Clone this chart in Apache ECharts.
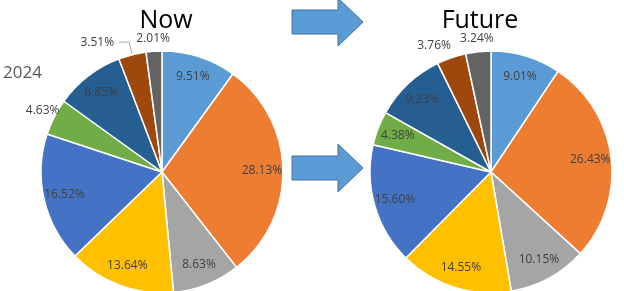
<!DOCTYPE html>
<html>
<head>
<meta charset="utf-8">
<script src="https://cdn.jsdelivr.net/npm/echarts@6/dist/echarts.min.js"></script>
<style>
  html, body { margin: 0; padding: 0; background: #fff; }
  #main { width: 624px; height: 291px; }
</style>
</head>
<body>
<div id="main"></div>
<script>
var titles = ['Now', 'Future'];
var yearLabel = '2024';
var nowValues = [9.51, 28.13, 8.63, 13.64, 16.52, 4.63, 8.85, 3.51, 2.01];
var futureValues = [9.01, 26.43, 10.15, 14.55, 15.60, 4.38, 9.23, 3.76, 3.24];
// which slices get their label outside the pie
var nowOutside = [5, 8];
var nowLeader = [7];
var futureOutside = [7, 8];
var futureShiftedLeft = [7];

var sliceColors = ['#5B9BD5', '#ED7D31', '#A5A5A5', '#FFC000', '#4472C4',
                   '#70AD47', '#255E91', '#9E480E', '#636363'];
var labelFont = { color: '#404040', fontSize: 12, fontFamily: 'Open Sans' };

var myChart = echarts.init(document.getElementById('main'));

function fmt(v) { return v.toFixed(2) + '%'; }

function pieSeries(values, center, outside, leader, shiftedLeft) {
  var main = {
    type: 'pie',
    center: center,
    radius: 121,
    startAngle: 90,
    silent: true,
    avoidLabelOverlap: false,
    itemStyle: { borderColor: '#fff', borderWidth: 1.5 },
    data: values.map(function (v, i) {
      var hasLeader = leader.indexOf(i) >= 0;
      return {
        value: v,
        itemStyle: { color: sliceColors[i] },
        label: { show: hasLeader, position: 'outside', formatter: fmt(v) },
        labelLine: { show: hasLeader, length: 13, length2: 10,
                     lineStyle: { color: '#a6a6a6', width: 1 } }
      };
    }),
    label: labelFont
  };
  var inner = {
    type: 'pie',
    center: center,
    radius: [60, 134],
    startAngle: 90,
    silent: true,
    itemStyle: { color: 'transparent' },
    label: Object.assign({ position: 'inside' }, labelFont),
    labelLine: { show: false },
    data: values.map(function (v, i) {
      var show = outside.indexOf(i) < 0 && leader.indexOf(i) < 0;
      return { value: v, label: { show: show, formatter: fmt(v) } };
    })
  };
  var outer = {
    type: 'pie',
    center: center,
    radius: [100, 162],
    startAngle: 90,
    silent: true,
    avoidLabelOverlap: false,
    itemStyle: { color: 'transparent' },
    label: Object.assign({ position: 'inside' }, labelFont),
    labelLine: { show: false },
    labelLayout: { hideOverlap: false },
    data: values.map(function (v, i) {
      var lbl = { show: outside.indexOf(i) >= 0, formatter: fmt(v) };
      if (shiftedLeft.indexOf(i) >= 0) lbl.padding = [0, 26, 0, 0];
      return { value: v, label: lbl };
    })
  };
  return [main, inner, outer];
}

function arrow(tipX, tipY) {
  // block arrow: body 46 wide, 23 tall; head 25 deep, 50 tall
  return {
    type: 'polygon',
    shape: { points: [
      [tipX - 71, tipY - 12], [tipX - 25, tipY - 12], [tipX - 25, tipY - 24],
      [tipX, tipY], [tipX - 25, tipY + 24], [tipX - 25, tipY + 12], [tipX - 71, tipY + 12]
    ] },
    style: { fill: '#5B9BD5', stroke: '#41719C', lineWidth: 1 }
  };
}

option = {
  backgroundColor: '#fff',
  animation: false,
  title: [
    { text: titles[0], left: 161, top: 3, textAlign: 'center',
      textStyle: { fontSize: 25, fontWeight: 'normal', color: '#000', fontFamily: 'Open Sans' } },
    { text: titles[1], left: 475, top: 3, textAlign: 'center',
      textStyle: { fontSize: 25, fontWeight: 'normal', color: '#000', fontFamily: 'Open Sans' } },
    { text: yearLabel, left: -2, top: 60,
      textStyle: { fontSize: 17, fontWeight: 'normal', color: '#595959', fontFamily: 'Open Sans' } }
  ],
  graphic: [arrow(363, 22), arrow(363, 168)],
  series: pieSeries(nowValues, [162, 172], nowOutside, nowLeader, [])
    .concat(pieSeries(futureValues, [491, 172], futureOutside, [], futureShiftedLeft))
};
myChart.setOption(option);
</script>
</body>
</html>
